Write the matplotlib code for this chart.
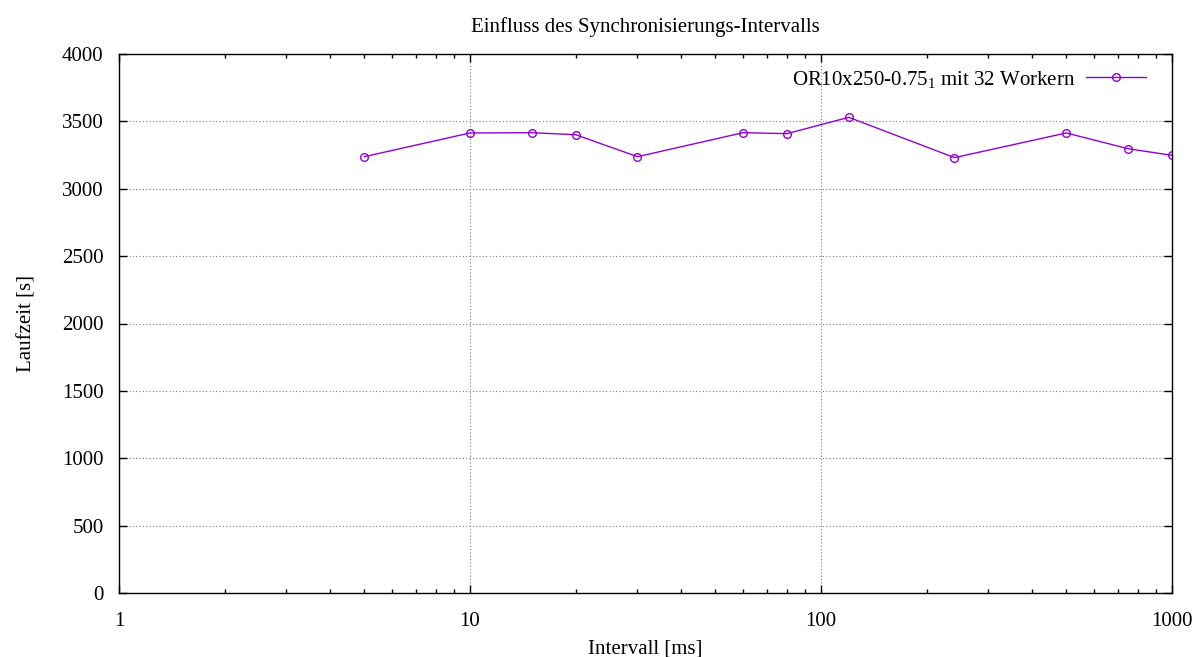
import matplotlib
matplotlib.use('Agg')
import matplotlib.pyplot as plt
from matplotlib.ticker import LogLocator, FixedLocator, NullLocator

# Daten: Synchronisierungs-Intervall [ms] und Laufzeit [s]
intervalle = [5, 10, 15, 20, 30, 60, 80, 120, 240, 500, 750, 1000]
laufzeit = [3238, 3414, 3416, 3401, 3238, 3416, 3409, 3530, 3231, 3414, 3297, 3248]

x_ticks = [1, 10, 100, 1000]
x_labels = ['1', '10', '100', '1000']
y_ticks = [0, 500, 1000, 1500, 2000, 2500, 3000, 3500, 4000]

plt.rcParams['font.family'] = ['Liberation Serif', 'DejaVu Serif']
plt.rcParams['mathtext.fontset'] = 'custom'
plt.rcParams['mathtext.rm'] = 'Liberation Serif'
plt.rcParams['mathtext.it'] = 'Liberation Serif'
plt.rcParams['font.size'] = 15

fig = plt.figure(figsize=(11.99, 6.57), dpi=100)
ax = fig.add_axes([119 / 1199, 1 - 593 / 657, (1172 - 119) / 1199, (593 - 54) / 657])

ax.plot(intervalle, laufzeit, color='#9400D3', linewidth=1, marker='o',
        markersize=5.5, markerfacecolor='none', markeredgewidth=1,
        label='OR10x250-0.75$_1$ mit 32 Workern')

ax.set_xscale('log')
ax.set_xlim(1, 1000)
ax.set_ylim(0, 4000)
ax.xaxis.set_major_locator(FixedLocator(x_ticks))
ax.set_xticklabels(x_labels)
ax.xaxis.set_minor_locator(LogLocator(base=10, subs=range(2, 10)))
ax.xaxis.set_minor_formatter(plt.NullFormatter())
ax.yaxis.set_major_locator(FixedLocator(y_ticks))
ax.yaxis.set_minor_locator(NullLocator())

ax.tick_params(which='both', direction='in', top=True, right=True, width=1)
ax.tick_params(axis='x', which='major', length=6, pad=14)
ax.tick_params(axis='y', which='major', length=6, pad=11)
ax.tick_params(which='minor', length=3)
ax.grid(True, which='major', color='#777777', linestyle=(0, (1, 2)), linewidth=0.8)
for s in ax.spines.values():
    s.set_linewidth(1)

ax.set_title('Einfluss des Synchronisierungs-Intervalls', fontsize=15, pad=16)
ax.set_xlabel('Intervall [ms]', labelpad=6)
ax.set_ylabel('Laufzeit [s]', labelpad=18)

ax.legend(loc='upper right', bbox_to_anchor=(0.9896, 1.0), frameon=False,
          markerfirst=False, handlelength=2.9, handletextpad=0.5,
          borderaxespad=0.3, fontsize=15)

plt.savefig('out.png', dpi=100)
plt.close()
